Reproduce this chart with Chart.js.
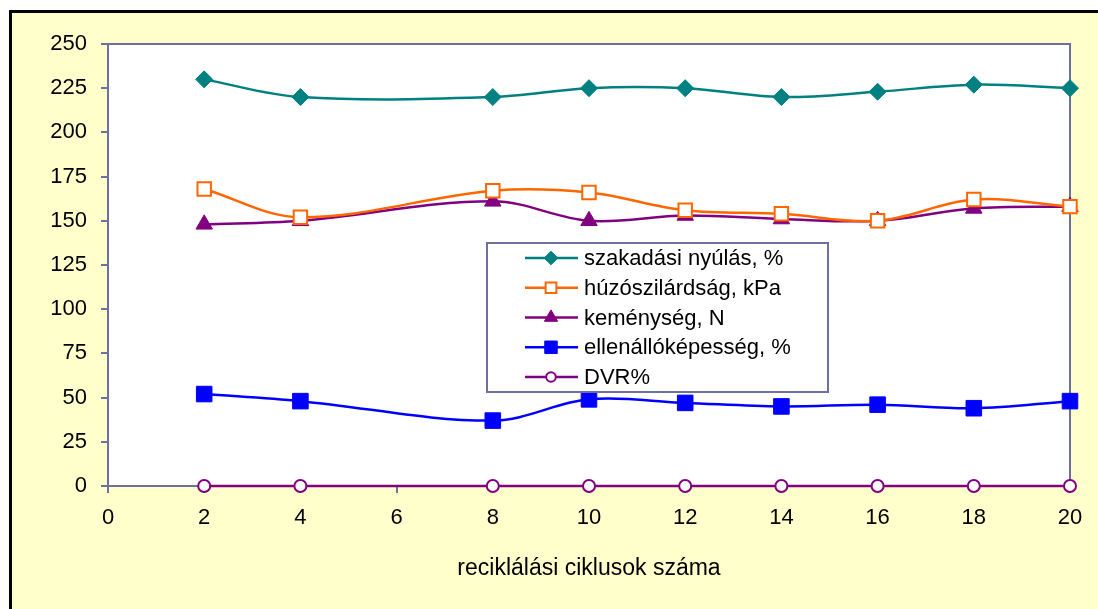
<!DOCTYPE html>
<html>
<head>
<meta charset="utf-8">
<script src="https://cdn.jsdelivr.net/npm/chart.js@4"></script>
<style>
  html, body { margin: 0; padding: 0; background: #fff; overflow: hidden; }
  #frame {
    position: absolute; left: 9px; top: 10px; width: 1200px; height: 700px;
    background: #FFFFCC; border-top: 3px solid #000; border-left: 3px solid #000;
  }
  #myChart { position: absolute; left: 0; top: 0; }
</style>
</head>
<body>
<div id="frame"></div>
<canvas id="myChart" width="1098" height="609"></canvas>
<script>
// ciklusok (x)
const cycles = [2, 4, 8, 10, 12, 14, 16, 18, 20];

const seriesNames = [
    'szakadási nyúlás, %',
    'húzószilárdság, kPa',
    'keménység, N',
    'ellenállóképesség, %',
    'DVR%'
];

const szakadasi = [230, 220, 220, 225, 225, 220, 223, 227, 225];
const huzoszilardsag = [168, 152, 167, 166, 156, 154, 150, 162, 158];
const kemenyseg = [148, 150, 161, 150, 153, 151, 150, 157, 158];
const ellenallo = [52, 48, 37, 49, 47, 45, 46, 44, 48];
const dvr = [0, 0, 0, 0, 0, 0, 0, 0, 0];

const xTicks = [0, 2, 4, 6, 8, 10, 12, 14, 16, 18, 20];
const yTicks = [0, 25, 50, 75, 100, 125, 150, 175, 200, 225, 250];

const axisColor = '#6F6FA0';
const fontFamily = "'Liberation Sans', Arial, sans-serif";

const toPoints = vals => cycles.map((c, i) => ({ x: c, y: vals[i] }));

const styles = [
    { color: '#008080', pointStyle: 'rectRot', radius: 8.5, fill: '#008080', bw: 1 },
    { color: '#FF6600', pointStyle: 'rect', radius: 9.5, fill: '#FFFFFF', bw: 2 },
    { color: '#800080', pointStyle: 'triangle', radius: 9.5, fill: '#800080', bw: 1 },
    { color: '#0000FF', pointStyle: 'rect', radius: 11, fill: '#0000FF', bw: 1 },
    { color: '#800080', pointStyle: 'circle', radius: 6, fill: '#FFFFFF', bw: 2 }
];
const allValues = [szakadasi, huzoszilardsag, kemenyseg, ellenallo, dvr];

const datasets = allValues.map((vals, i) => ({
    label: seriesNames[i],
    data: toPoints(vals),
    borderColor: styles[i].color,
    backgroundColor: styles[i].fill,
    pointBackgroundColor: styles[i].fill,
    pointBorderColor: styles[i].color,
    pointBorderWidth: styles[i].bw,
    pointStyle: styles[i].pointStyle,
    pointRadius: styles[i].radius,
    borderWidth: 2.5,
    tension: 0.35,
    clip: false
}));

// kis jelölő rajzolása a jelmagyarázathoz
function drawMarker(c, st, x, y, r) {
    c.save();
    c.beginPath();
    if (st.pointStyle === 'rectRot') {
        c.moveTo(x - r, y); c.lineTo(x, y - r); c.lineTo(x + r, y); c.lineTo(x, y + r);
        c.closePath();
    } else if (st.pointStyle === 'rect') {
        const s = r * Math.SQRT1_2;
        c.rect(x - s, y - s, 2 * s, 2 * s);
    } else if (st.pointStyle === 'triangle') {
        c.moveTo(x, y - r);
        c.lineTo(x + r * Math.cos(Math.PI / 6), y + r / 2);
        c.lineTo(x - r * Math.cos(Math.PI / 6), y + r / 2);
        c.closePath();
    } else {
        c.arc(x, y, r, 0, Math.PI * 2);
    }
    c.fillStyle = st.fill;
    c.fill();
    c.lineWidth = st.bw;
    c.strokeStyle = st.color;
    c.stroke();
    c.restore();
}

const plotFrame = {
    id: 'plotFrame',
    beforeDraw(chart) {
        const { ctx, chartArea: a } = chart;
        ctx.save();
        ctx.fillStyle = '#FFFFFF';
        ctx.fillRect(a.left, a.top, a.right - a.left, a.bottom - a.top);
        ctx.restore();
    },
    beforeDatasetsDraw(chart) {
        const { ctx, chartArea: a } = chart;
        ctx.save();
        ctx.strokeStyle = axisColor;
        ctx.lineWidth = 2;
        ctx.strokeRect(a.left, a.top, a.right - a.left, a.bottom - a.top);
        ctx.restore();
    },
    afterDatasetsDraw(chart) {
        // jelmagyarázat a rajzterületen belül
        const { ctx, chartArea: a } = chart;
        const bx = a.left + 379, by = a.top + 199, bw = 341, bh = 149;
        ctx.save();
        ctx.fillStyle = '#FFFFFF';
        ctx.fillRect(bx, by, bw, bh);
        ctx.strokeStyle = axisColor;
        ctx.lineWidth = 2;
        ctx.strokeRect(bx, by, bw, bh);
        ctx.font = '22px ' + fontFamily;
        ctx.textBaseline = 'middle';
        ctx.textAlign = 'left';
        chart.data.datasets.forEach((ds, i) => {
            const y = by + 15 + i * 29.75;
            const st = styles[i];
            ctx.strokeStyle = st.color;
            ctx.lineWidth = 2.5;
            ctx.beginPath();
            ctx.moveTo(bx + 38, y);
            ctx.lineTo(bx + 91, y);
            ctx.stroke();
            drawMarker(ctx, st, bx + 64, y, st.radius * 0.8);
            ctx.fillStyle = '#000';
            ctx.fillText(ds.label, bx + 97, y + 1);
        });
        ctx.restore();
    }
};

const ctx = document.getElementById('myChart');

const chart = new Chart(ctx, {
    type: 'line',
    data: { datasets: datasets },
    plugins: [plotFrame],
    options: {
        responsive: false,
        animation: false,
        devicePixelRatio: 1,
        layout: { padding: { top: 44, right: 28, left: 0, bottom: 0 } },
        plugins: {
            legend: { display: false },
            tooltip: { enabled: false }
        },
        scales: {
            x: {
                type: 'linear',
                min: 0,
                max: 20,
                afterFit: s => { s.height = 123; },
                afterBuildTicks: s => { s.ticks = xTicks.map(v => ({ value: v })); },
                grid: { drawOnChartArea: false, color: axisColor, lineWidth: 2, tickLength: 7 },
                border: { color: axisColor, width: 2 },
                ticks: { color: '#000', padding: 12, maxRotation: 0, font: { family: fontFamily, size: 22 } },
                title: {
                    display: true,
                    text: 'reciklálási ciklusok száma',
                    color: '#000',
                    padding: { top: 0, bottom: 27 },
                    font: { family: fontFamily, size: 23 }
                }
            },
            y: {
                min: 0,
                max: 250,
                afterFit: s => { s.width = 108; },
                afterBuildTicks: s => { s.ticks = yTicks.map(v => ({ value: v })); },
                grid: { drawOnChartArea: false, color: axisColor, lineWidth: 2, tickLength: 7 },
                border: { color: axisColor, width: 2 },
                ticks: { color: '#000', padding: 14, font: { family: fontFamily, size: 22 } }
            }
        }
    }
});
</script>
</body>
</html>
